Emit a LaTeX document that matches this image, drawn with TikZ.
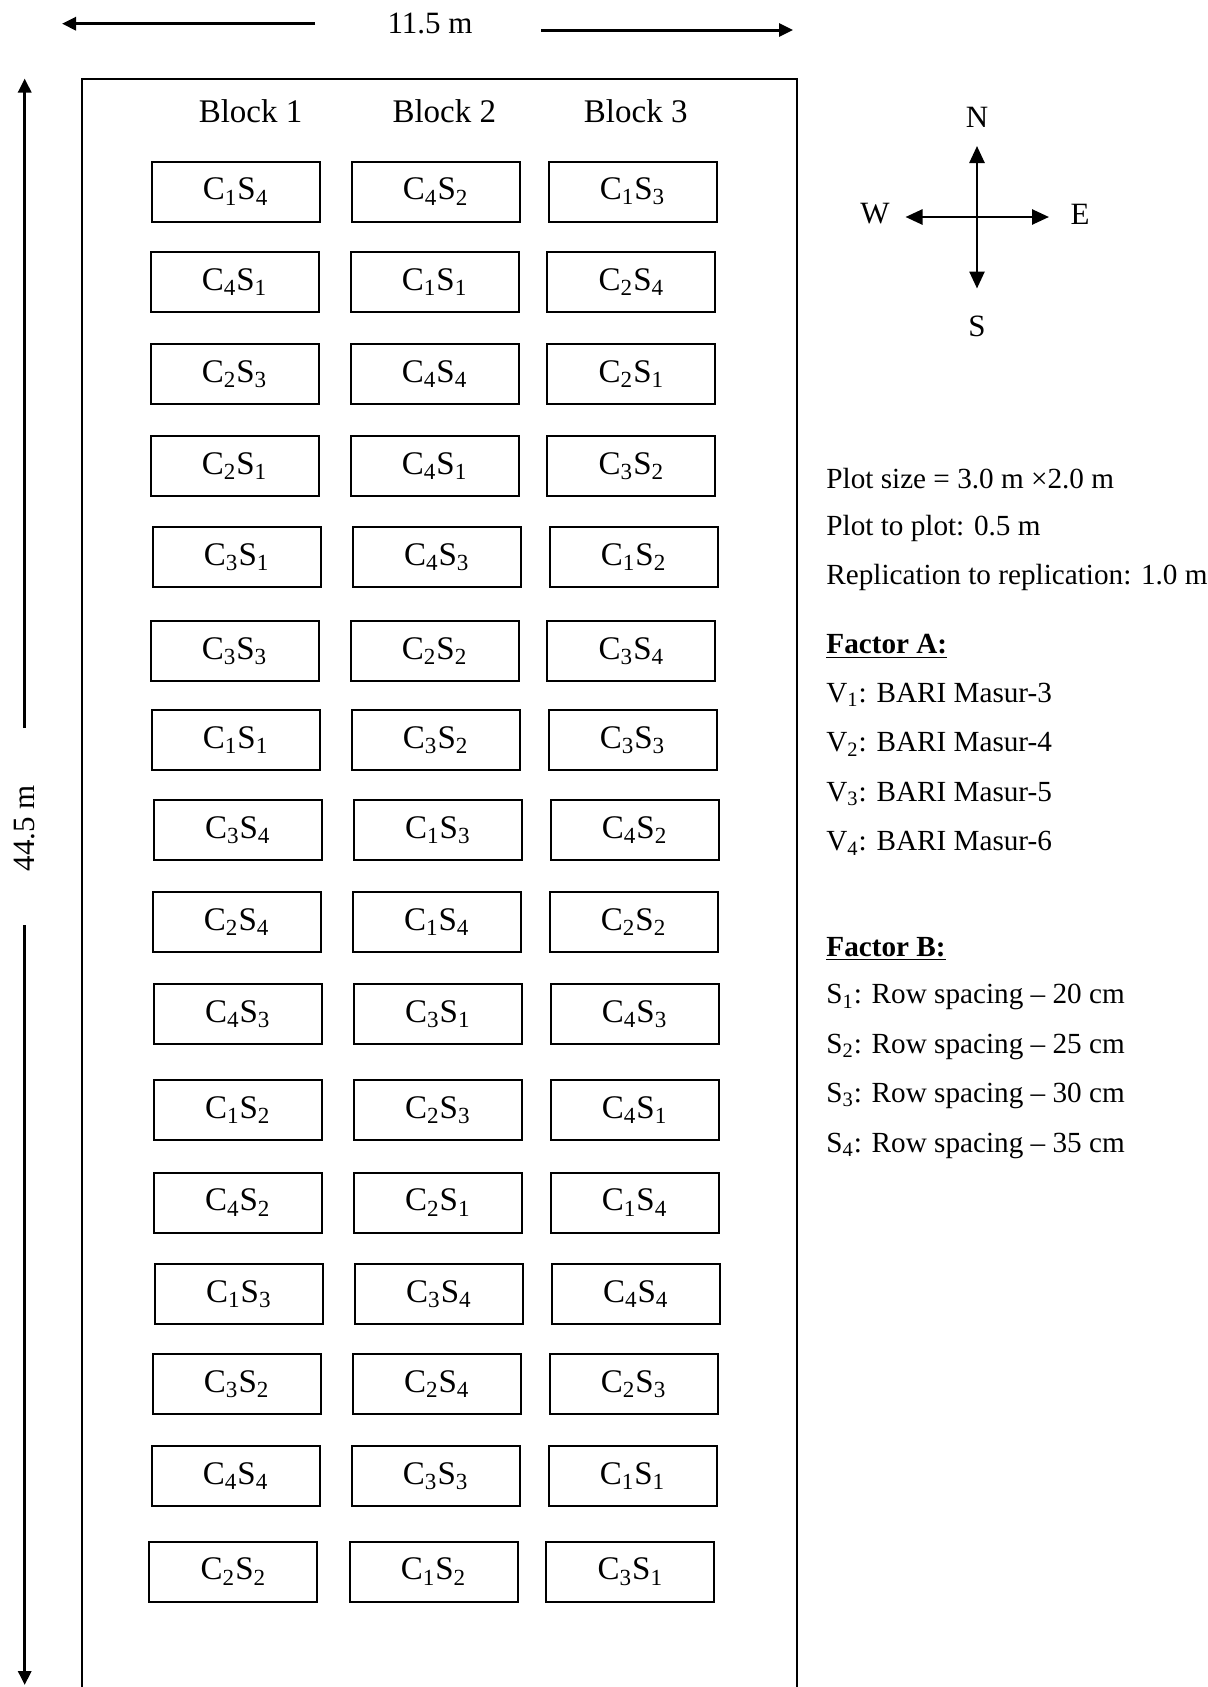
\documentclass[tikz,border=0pt]{standalone}
\usepackage{fontspec}
\setmainfont{Liberation Serif}
\usetikzlibrary{arrows.meta}
\begin{document}
\begin{tikzpicture}[x=0.5pt,y=-0.5pt,
  plotbox/.style={draw,line width=1pt,minimum width=84pt,minimum height=30pt,inner sep=0pt,font=\fontsize{16.5}{18}\selectfont},
  blocklab/.style={inner sep=0pt,font=\fontsize{16.5}{18}\selectfont},
  dimlab/.style={inner sep=0pt,font=\fontsize{15.5}{17}\selectfont},
  leg/.style={anchor=west,inner sep=0pt,font=\fontsize{14.6}{17}\selectfont},
  comp/.style={inner sep=0pt,font=\fontsize{15.5}{17}\selectfont},
  dimarrow/.style={line width=1.5pt,-{Triangle[length=7pt,width=6.5pt]}},
  comparrow/.style={line width=1.3pt,-{Triangle[length=8.5pt,width=7.5pt]}},
  frame/.style={line width=1pt}]
\clip (0,0) rectangle (1208,1687);
\fill[white] (0,0) rectangle (1208,1687);
% field frame (bottom edge beyond the picture)
\draw[frame] (81.8,1700) -- (81.8,78.5) -- (797,78.5) -- (797,1700);
% dimension arrows
\coordinate (tl1) at (315,23.7); \coordinate (tl2) at (62,23.7);
\coordinate (tr1) at (541,30); \coordinate (tr2) at (793,30);
\node[dimlab] (wlab) at (430,23.7) {11.5 m};
\draw[dimarrow] (tl1) -- (tl2);
\draw[dimarrow] (tr1) -- (tr2);
\coordinate (vu1) at (24.7,728); \coordinate (vu2) at (24.7,78.5);
\coordinate (vd1) at (24.7,925); \coordinate (vd2) at (24.7,1685);
\node[dimlab,rotate=90] (hlab) at (24.7,828) {44.5 m};
\draw[dimarrow] (vu1) -- (vu2);
\draw[dimarrow] (vd1) -- (vd2);
% block labels
\node[blocklab] (bl1) at (250.6,110.8) {Block 1};
\node[blocklab] (bl2) at (444.3,110.8) {Block 2};
\node[blocklab] (bl3) at (635.7,110.8) {Block 3};
% plots
\def\lab#1#2{C\textsubscript{#1}S\textsubscript{#2}}
\foreach \yy/\dd/\pa/\pb/\pc [count=\r] in {
 191.5/0/14/42/13,
 281.8/-1/41/11/24,
 374.3/-1/23/44/21,
 465.8/-1/21/41/32,
 557.2/1/31/43/12,
 650.8/-1/33/22/34,
 740.1/0/11/32/33,
 830.4/2/34/13/42,
 921.9/1/24/14/22,
 1014.4/2/43/31/43,
 1110.1/2/12/23/41,
 1202.6/2/42/21/14,
 1294.1/3/13/34/44,
 1384.4/1/32/24/23,
 1475.9/0/44/33/11,
 1571.6/-2/22/12/31}{
  \node[plotbox] (p\r-1) at (235.6+1.08*\dd,\yy) {\expandafter\lab\pa};
  \node[plotbox] (p\r-2) at (435.7+1.08*\dd,\yy) {\expandafter\lab\pb};
  \node[plotbox] (p\r-3) at (632.5+1.08*\dd,\yy) {\expandafter\lab\pc};
}
% compass
\coordinate (cc) at (977,217);
\coordinate (cn) at (977,146); \coordinate (cs) at (977,288.5);
\coordinate (cw) at (905.5,217); \coordinate (ce) at (1049,217);
\draw[comparrow] (cc) -- (cn);
\draw[comparrow] (cc) -- (cs);
\draw[comparrow] (cc) -- (cw);
\draw[comparrow] (cc) -- (ce);
\node[comp] (ln) at (977,117) {N};
\node[comp] (ls) at (977,326) {S};
\node[comp] (lw) at (875,214) {W};
\node[comp] (le) at (1080,214) {E};
% legend
\node[leg] (g1) at (826,478.7) {Plot size = 3.0 m ×2.0 m};
\node[leg] (g2) at (826,528.2) {Plot to plot: 0.5 m};
\node[leg] (g3) at (826,577.7) {Replication to replication: 1.0 m};
\node[leg] (g4) at (826,646.5) {\underline{\textbf{Factor A:}}};
\node[leg] (g5) at (826,694.9) {V\textsubscript{1}: BARI Masur-3};
\node[leg] (g6) at (826,744.4) {V\textsubscript{2}: BARI Masur-4};
\node[leg] (g7) at (826,793.9) {V\textsubscript{3}: BARI Masur-5};
\node[leg] (g8) at (826,843.3) {V\textsubscript{4}: BARI Masur-6};
\node[leg] (g9) at (826,948.8) {\underline{\textbf{Factor B:}}};
\node[leg] (g10) at (826,997.2) {S\textsubscript{1}: Row spacing – 20 cm};
\node[leg] (g11) at (826,1046.7) {S\textsubscript{2}: Row spacing – 25 cm};
\node[leg] (g12) at (826,1096.1) {S\textsubscript{3}: Row spacing – 30 cm};
\node[leg] (g13) at (826,1145.6) {S\textsubscript{4}: Row spacing – 35 cm};
\end{tikzpicture}
\end{document}
